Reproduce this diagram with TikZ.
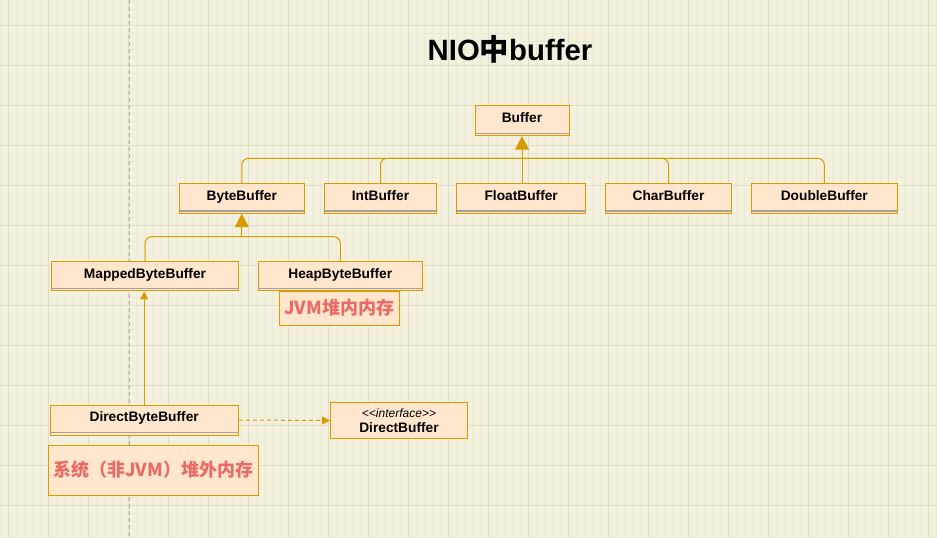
\documentclass[tikz,border=0pt]{standalone}
\usepackage{fontspec}
\setmainfont{Liberation Sans}
\newfontfamily\cjk{Noto Sans CJK SC}
\usetikzlibrary{arrows.meta}

\definecolor{paper}{RGB}{244,241,222}
\definecolor{gridminor}{RGB}{236,233,212}
\definecolor{gridmajor}{RGB}{224,220,200}
\definecolor{guide}{RGB}{175,172,190}
\definecolor{umlorange}{RGB}{215,155,0}
\definecolor{umlfill}{RGB}{255,230,204}
\definecolor{sepgray}{RGB}{165,160,155}
\definecolor{notered}{RGB}{234,107,102}

\begin{document}
\begin{tikzpicture}[x=0.75pt, y=-0.75pt,
  every node/.style={font=\bfseries\fontsize{10.3}{12}\selectfont},
  classbox/.style={draw=umlorange, fill=umlfill, line width=0.75pt, minimum height=22.5pt,
    inner sep=0pt, text height=7.5pt, text depth=4.8pt,
    path picture={\draw[sepgray, line width=0.9pt]
      ([yshift=1.8pt]path picture bounding box.south west) --
      ([yshift=1.8pt]path picture bounding box.south east);}},
  notebox/.style={draw=umlorange, fill=umlfill, line width=0.75pt, inner sep=0pt,
    text=notered, font=\cjk\bfseries\fontsize{13.5}{16}\selectfont},
  conn/.style={draw=umlorange, line width=0.75pt},
  bigtip/.style={-{Triangle[width=10.5pt,length=10pt]}},
  smalltip/.style={-{Triangle[width=6pt,length=6pt]}}]

% Background and grid
\fill[paper] (0,0) rectangle (937,537);
\useasboundingbox (0,0) rectangle (937,537);
\foreach \x in {0,8,...,936} \draw[gridminor, line width=0.5pt] (\x,0) -- (\x,537);
\foreach \y in {1,9,...,537} \draw[gridminor, line width=0.5pt] (0,\y) -- (937,\y);
\foreach \x in {8,48,...,928} \draw[gridmajor, line width=0.75pt] (\x,0) -- (\x,537);
\foreach \y in {25,65,...,505} \draw[gridmajor, line width=0.75pt] (0,\y) -- (937,\y);
\draw[guide, line width=0.75pt, dash pattern=on 3pt off 2.25pt] (129,0) -- (129,537);

% Title
\node[font=\bfseries\fontsize{22}{26}\selectfont] (title) at (510,49) {NIO{\cjk 中}buffer};

% Classes
\node[classbox, minimum width=70.5pt] (buffer) at (522,120.7) {Buffer};
\node[classbox, minimum width=93.75pt] (bytebuf) at (241.8,198.3) {ByteBuffer};
\node[classbox, minimum width=84.3pt] (intbuf) at (380.5,198.3) {IntBuffer};
\node[classbox, minimum width=96.75pt] (floatbuf) at (521.2,198.3) {FloatBuffer};
\node[classbox, minimum width=94.8pt] (charbuf) at (668.5,198.3) {CharBuffer};
\node[classbox, minimum width=109.5pt] (doublebuf) at (824.3,198.3) {DoubleBuffer};

\node[classbox, minimum width=140pt, minimum height=22pt] (mapped) at (145,276.3) {MappedByteBuffer};
\node[notebox, minimum width=90pt, minimum height=25.5pt] (heapnote) at (339.3,308) {JVM堆内内存};
\node[classbox, minimum width=123pt, minimum height=22pt] (heap) at (340.3,276.3) {HeapByteBuffer};

\node[classbox, minimum width=141.2pt] (directbb) at (144.2,420) {DirectByteBuffer};
\node[notebox, minimum width=157.5pt, minimum height=37.5pt] (offheap) at (153.3,470) {系统（非JVM）堆外内存};
\node[draw=umlorange, fill=umlfill, line width=1.1pt, minimum width=102.5pt, minimum height=26.7pt,
  inner sep=0pt, align=center] (directbuf) at (399,420.5)
  {{\mdseries\itshape\fontsize{9}{10}\selectfont
    \textless\kern0pt\textless\kern0pt interface\kern0pt\textgreater\kern0pt\textgreater}\\[-1pt]DirectBuffer};

% Inheritance
\coordinate (hub1) at (522,158.3);
\coordinate (hub2) at (241.8,236.7);
\draw[conn, rounded corners=5pt] (bytebuf.north) |- (hub1);
\draw[conn, rounded corners=5pt] (intbuf.north) |- (hub1);
\draw[conn] (hub1 |- floatbuf.north) -- (hub1);
\draw[conn, rounded corners=5pt] (charbuf.north) |- (hub1);
\draw[conn, rounded corners=5pt] (doublebuf.north) |- (hub1);
\draw[conn, bigtip] (hub1) -- (buffer.south);

\draw[conn, rounded corners=5pt] (mapped.north) |- (hub2);
\draw[conn, rounded corners=5pt] (heap.north) |- (hub2);
\draw[conn, bigtip] (hub2) -- (bytebuf.south);

\draw[conn, smalltip] (directbb.north) -- (directbb.north |- mapped.south);

% Realization
\draw[conn, dash pattern=on 3pt off 2.25pt, smalltip] (directbb.east) -- (directbuf.west);
\end{tikzpicture}
\end{document}
